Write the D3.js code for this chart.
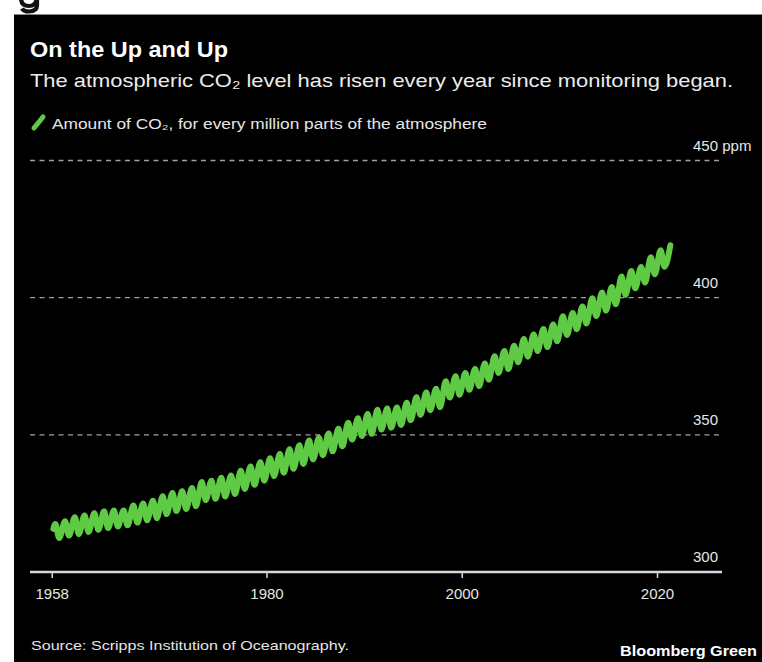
<!DOCTYPE html>
<html>
<head>
<meta charset="utf-8">
<script src="https://cdn.jsdelivr.net/npm/d3@7"></script>
<style>
  html, body { margin: 0; padding: 0; background: #fff; }
  svg { display: block; }
  text { font-family: "Liberation Sans", Arial, Helvetica, sans-serif; }
</style>
</head>
<body>
<svg id="chart" width="762" height="662"></svg>
<script>
// ---- Data (ppm, Mauna Loa) ----
const years = [1958,1959,1960,1961,1962,1963,1964,1965,1966,1967,1968,1969,1970,1971,1972,1973,1974,1975,1976,1977,1978,1979,1980,1981,1982,1983,1984,1985,1986,1987,1988,1989,1990,1991,1992,1993,1994,1995,1996,1997,1998,1999,2000,2001,2002,2003,2004,2005,2006,2007,2008,2009,2010,2011,2012,2013,2014,2015,2016,2017,2018,2019,2020,2021];
// seasonal maximum (spring) of each year
const peaks = [317.5,318.5,320.0,320.6,321.4,322.1,322.4,322.4,324.2,325.0,326.0,327.6,328.8,329.4,330.6,332.8,333.3,334.4,335.2,336.9,338.5,340.0,341.5,343.0,344.7,346.2,347.9,348.9,350.5,352.2,354.4,356.0,357.6,359.1,359.6,360.0,361.7,363.7,365.4,366.8,369.5,371.4,372.5,374.0,376.0,378.6,380.6,382.5,384.9,386.6,388.6,390.2,393.2,394.4,396.8,399.8,401.9,403.9,407.7,409.7,411.2,414.7,417.3,419.1];
// seasonal minimum (autumn) of each year
const troughs = [312.4,313.3,313.8,314.6,315.4,316.0,316.6,317.0,318.0,318.9,319.6,321.1,322.2,323.0,324.0,326.2,326.7,327.5,328.4,330.3,331.8,333.3,335.0,336.2,337.6,339.4,341.0,342.6,344.0,345.8,348.3,349.6,350.4,351.9,352.6,353.6,355.3,357.3,359.0,360.1,363.6,364.6,366.4,367.8,370.1,372.6,374.0,376.5,378.5,380.6,382.0,384.1,386.4,388.5,390.6,393.3,395.3,397.6,401.0,403.4,405.5,408.5,411.3];
const startValue = 315.7; // March 1958
const yTicks = [300, 350, 400, 450];
const yTickLabels = ["300", "350", "400", "450 ppm"];
const xTicks = [1958, 1980, 2000, 2020];

// ---- build series ----
const series = [{t: 1958.17, v: startValue}];
years.forEach((yr, i) => {
  series.push({t: yr + 0.37, v: peaks[i]});
  if (i < troughs.length) series.push({t: yr + 0.77, v: troughs[i]});
});

const svg = d3.select("#chart");

// white page + black panel
svg.append("rect").attr("x", 0).attr("y", 0).attr("width", 762).attr("height", 662).attr("fill", "#fff");
// remnant of a cropped heading glyph above the panel (decorative shape)
svg.append("path")
  .attr("d", "M21,-2 Q21,6 29,6 Q36,6 37,-2 M37,-3 L37,5 Q37,11.5 29,11.5 Q23.5,11.5 22,8.5")
  .attr("fill", "none").attr("stroke", "#111").attr("stroke-width", 4.2).attr("stroke-linecap", "butt");
svg.append("rect").attr("x", 14).attr("y", 14).attr("width", 748).attr("height", 648).attr("fill", "#000");
svg.append("line").attr("x1", 14).attr("x2", 762).attr("y1", 14.5).attr("y2", 14.5)
  .attr("stroke", "#8a8a8a").attr("stroke-width", 1);

// titles
svg.append("text").attr("x", 30).attr("y", 57)
  .attr("fill", "#fff").attr("font-size", 22.5).attr("font-weight", "bold")
  .attr("textLength", 198).attr("lengthAdjust", "spacingAndGlyphs")
  .text("On the Up and Up");
svg.append("text").attr("x", 30).attr("y", 87)
  .attr("fill", "#ececec").attr("font-size", 18.5)
  .attr("textLength", 703).attr("lengthAdjust", "spacingAndGlyphs")
  .text("The atmospheric CO\u2082 level has risen every year since monitoring began.");

// legend
svg.append("line").attr("x1", 34).attr("y1", 128).attr("x2", 43).attr("y2", 117)
  .attr("stroke", "#5fcb45").attr("stroke-width", 5).attr("stroke-linecap", "round");
svg.append("text").attr("x", 52).attr("y", 129)
  .attr("fill", "#e6e6e6").attr("font-size", 14)
  .attr("textLength", 435).attr("lengthAdjust", "spacingAndGlyphs")
  .text("Amount of CO\u2082, for every million parts of the atmosphere");

// scales
const x = d3.scaleLinear().domain([1958, 2020]).range([51.7, 657]);
const y = d3.scaleLinear().domain([300, 450]).range([572, 160.5]);

// gridlines (dashed) for 350..450
const grid = svg.append("g");
yTicks.filter(d => d > 300).forEach(d => {
  grid.append("line").attr("x1", 30).attr("x2", 720)
    .attr("y1", y(d)).attr("y2", y(d))
    .attr("stroke", "#a0a0a0").attr("stroke-width", 1.4)
    .attr("stroke-dasharray", "5,4.5");
});

// y labels on the right
const yl = svg.append("g");
yTicks.forEach((d, i) => {
  yl.append("text").attr("x", 693).attr("y", y(d) - 10)
    .attr("fill", "#e6e6e6").attr("font-size", 15)
    .text(yTickLabels[i]);
});

// x axis
const xAxis = d3.axisBottom(x).tickValues(xTicks).tickFormat(d3.format("d"))
  .tickSize(6).tickPadding(10).tickSizeOuter(0);
const gx = svg.append("g").attr("transform", `translate(0,${y(300)})`).call(xAxis);
gx.select(".domain").remove();
gx.insert("line", ":first-child").attr("x1", 30).attr("x2", 722).attr("y1", 0).attr("y2", 0)
  .attr("stroke", "#d8d8d8").attr("stroke-width", 2.5);
gx.selectAll(".tick line").attr("stroke", "#d8d8d8").attr("stroke-width", 1.5);
gx.selectAll(".tick text").attr("fill", "#e6e6e6").attr("font-size", 15)
  .attr("font-family", "'Liberation Sans', Arial, sans-serif");

// CO2 line
const line = d3.line().x(d => x(d.t)).y(d => y(d.v)).curve(d3.curveMonotoneX);
svg.append("path").datum(series)
  .attr("d", line).attr("fill", "none")
  .attr("stroke", "#5fcb45").attr("stroke-width", 6)
  .attr("stroke-linecap", "round").attr("stroke-linejoin", "round");

// footer
svg.append("text").attr("x", 31).attr("y", 650)
  .attr("fill", "#e6e6e6").attr("font-size", 13.5)
  .attr("textLength", 318).attr("lengthAdjust", "spacingAndGlyphs")
  .text("Source: Scripps Institution of Oceanography.");
svg.append("text").attr("x", 620).attr("y", 656)
  .attr("fill", "#fff").attr("font-size", 14.5).attr("font-weight", "bold")
  .attr("textLength", 137).attr("lengthAdjust", "spacingAndGlyphs")
  .text("Bloomberg Green");
</script>
</body>
</html>
